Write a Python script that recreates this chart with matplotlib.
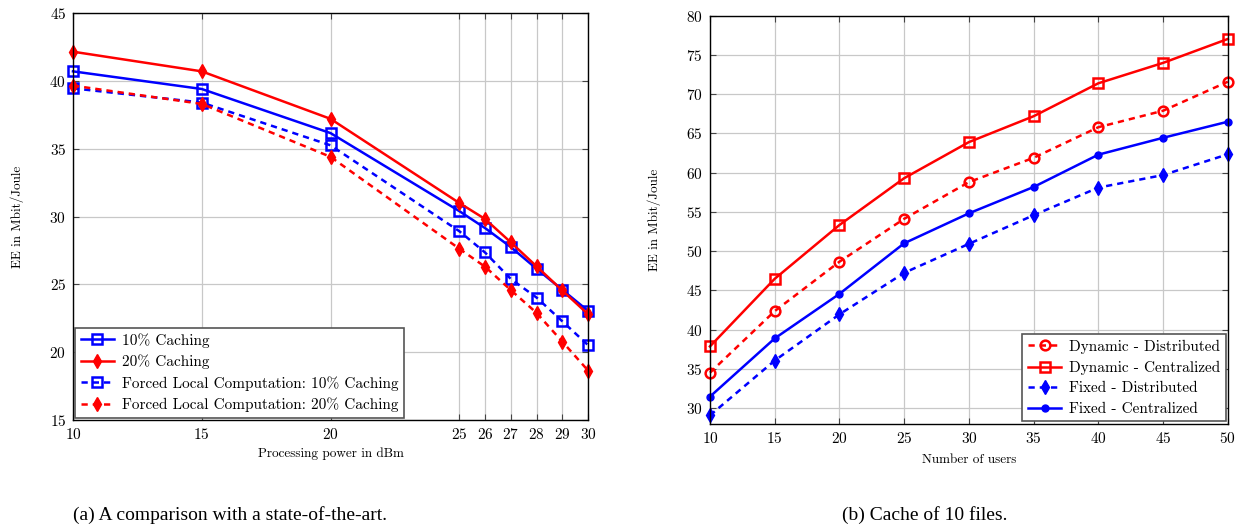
import matplotlib
matplotlib.use('Agg')
import matplotlib.pyplot as plt

# (a) EE vs processing power
power_dbm = [10, 15, 20, 25, 26, 27, 28, 29, 30]
ee_10 = [40.7, 39.4, 36.15, 30.4, 29.15, 27.75, 26.15, 24.6, 23.05]
ee_20 = [42.15, 40.7, 37.2, 31.0, 29.82, 28.1, 26.33, 24.55, 22.8]
ee_forced_10 = [39.45, 38.4, 35.25, 28.92, 27.35, 25.4, 24.03, 22.28, 20.52]
ee_forced_20 = [39.65, 38.3, 34.4, 27.63, 26.3, 24.58, 22.9, 20.78, 18.65]
power_ticks = [10, 15, 20, 25, 26, 27, 28, 29, 30]

# (b) EE vs number of users, cache of 10 files
users = [10, 15, 20, 25, 30, 35, 40, 45, 50]
dyn_dist = [34.5, 42.35, 48.65, 54.12, 58.8, 61.9, 65.8, 67.9, 71.6]
dyn_cent = [37.85, 46.47, 53.33, 59.3, 63.9, 67.2, 71.4, 74.0, 77.05]
fix_dist = [29.06, 36.05, 41.94, 47.23, 50.93, 54.58, 58.1, 59.7, 62.35]
fix_cent = [31.45, 38.87, 44.55, 51.0, 54.82, 58.18, 62.3, 64.45, 66.5]

plt.rcParams['font.family'] = 'cmr10'
plt.rcParams['axes.formatter.use_mathtext'] = True
plt.rcParams['mathtext.fontset'] = 'cm'

fig = plt.figure(figsize=(12.39, 5.27), dpi=100)
ax1 = fig.add_axes([0.0589, 0.203, 0.4157, 0.7723])
ax2 = fig.add_axes([0.573, 0.196, 0.418, 0.774])

lw = 1.8
ms = 7
dash = (0, (2.5, 2))
sq = dict(marker='s', ms=ms, mfc='none', mew=1.8, clip_on=False)
dia = dict(marker='d', ms=ms, clip_on=False)

ax1.plot(power_dbm, ee_10, color='#0000ff', lw=lw, label='10% Caching', **sq)
ax1.plot(power_dbm, ee_20, color='#ff0000', lw=lw, label='20% Caching', **dia)
ax1.plot(power_dbm, ee_forced_10, color='#0000ff', lw=lw, ls=dash,
         label='Forced Local Computation: 10% Caching', **sq)
ax1.plot(power_dbm, ee_forced_20, color='#ff0000', lw=lw, ls=dash,
         label='Forced Local Computation: 20% Caching', **dia)
ax1.set_xlim(10, 30)
ax1.set_ylim(15, 45)
ax1.set_xticks(power_ticks)
ax1.set_yticks([15, 20, 25, 30, 35, 40, 45])
ax1.set_xlabel('Processing power in dBm', fontsize=9.5, labelpad=4)
ax1.set_ylabel('EE in Mbit/Joule', fontsize=9.5, labelpad=18)
leg1 = ax1.legend(loc='lower left', fontsize=11, handlelength=2.2,
                  borderaxespad=0.15, fancybox=False, framealpha=1,
                  labelspacing=0.45, handletextpad=0.5, borderpad=0.35)

ax2.plot(users, dyn_dist, color='#ff0000', lw=lw, ls=dash, marker='o', ms=ms,
         mfc='none', mew=1.8, clip_on=False, label='Dynamic - Distributed')
ax2.plot(users, dyn_cent, color='#ff0000', lw=lw,
         label='Dynamic - Centralized', **sq)
ax2.plot(users, fix_dist, color='#0000ff', lw=lw, ls=dash,
         label='Fixed - Distributed', **dia)
ax2.plot(users, fix_cent, color='#0000ff', lw=lw, marker='o', ms=5,
         clip_on=False, label='Fixed - Centralized')
ax2.set_xlim(10, 50)
ax2.set_ylim(28, 80)
ax2.set_xticks(users)
ax2.set_yticks(range(30, 81, 5))
ax2.set_xlabel('Number of users', fontsize=9.5, labelpad=6)
ax2.set_ylabel('EE in Mbit/Joule', fontsize=9.5, labelpad=18)
leg2 = ax2.legend(loc='lower right', fontsize=11, handlelength=2.2,
                  borderaxespad=0.15, fancybox=False, framealpha=1,
                  labelspacing=0.45, handletextpad=0.5, borderpad=0.35)

for ax, leg in ((ax1, leg1), (ax2, leg2)):
    ax.grid(True, color='#c8c8c8', lw=0.9)
    ax.set_axisbelow(True)
    ax.tick_params(direction='in', length=4, width=0.8, labelsize=11,
                   top=True, right=True, color='#444444', pad=5)
    for s in ax.spines.values():
        s.set_linewidth(1.0)
        s.set_color('black')
    leg.get_frame().set_edgecolor('#555555')
    leg.get_frame().set_linewidth(1.2)
    leg.set_zorder(5)

caption_font = {'family': 'Liberation Serif', 'size': 14}
fig.text(0.186, 0.005, '(a) A comparison with a state-of-the-art.',
         ha='center', va='bottom', fontdict=caption_font)
fig.text(0.746, 0.005, '(b) Cache of 10 files.',
         ha='center', va='bottom', fontdict=caption_font)

fig.savefig('out.png', dpi=100)
